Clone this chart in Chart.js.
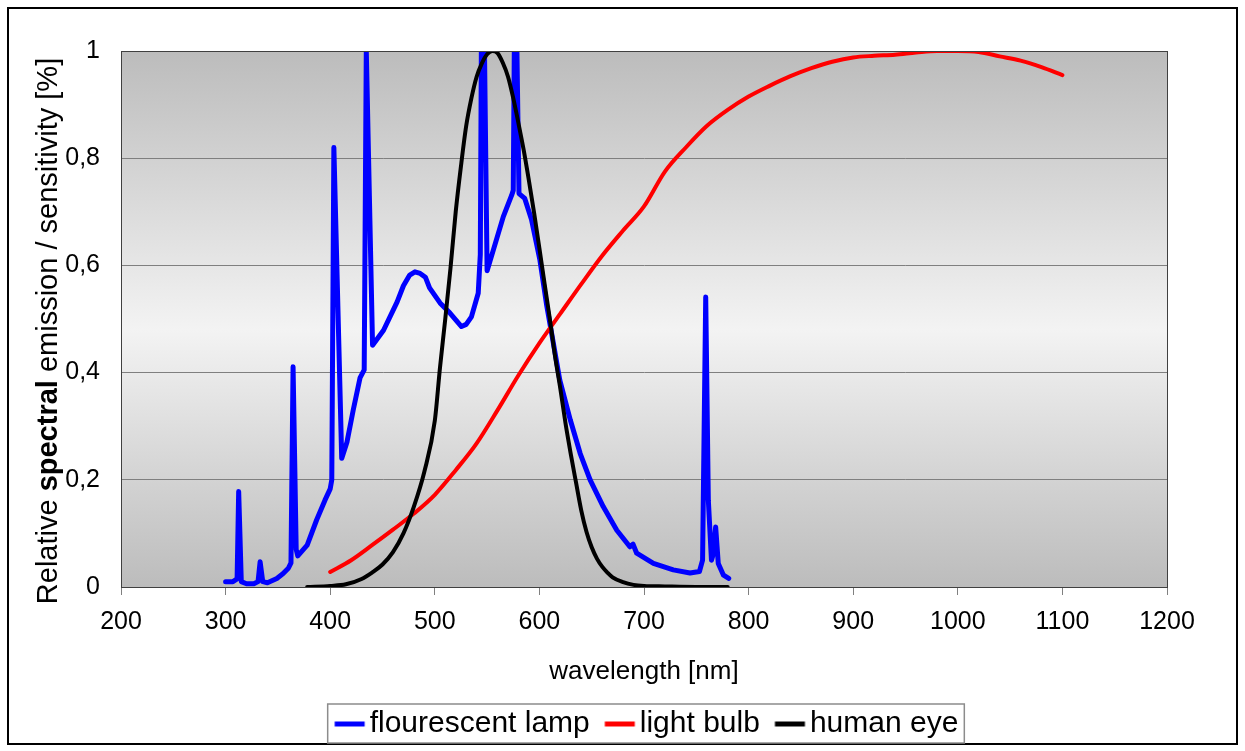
<!DOCTYPE html>
<html>
<head>
<meta charset="utf-8">
<title>Spectral emission</title>
<script src="https://cdn.jsdelivr.net/npm/chart.js@4/dist/chart.umd.min.js"></script>
<style>
    body { margin: 0; background: #fff; }
    #chart { display: block; }
</style>
</head>
<body>
<canvas id="chart" width="1245" height="751"></canvas>
<script>
// Fluorescent lamp spectrum (nm / relative value)
const lampNm = [300, 307, 311, 312.5, 315, 320, 327, 331, 333, 335.5, 340, 349, 355, 360, 362.5, 364.5, 367.5, 369,
    378, 387, 395, 400, 401.5, 403.5, 411, 416, 422, 428.5, 432.5, 434.5, 440.5, 451, 464, 470, 476, 481, 486, 491, 495,
    505, 514.5, 525.5, 530, 535, 541.5, 543.5, 544.5, 547.5, 550, 556, 565.5, 573.5, 575, 576, 578.5, 580.5,
    586, 592.5, 600.5, 607, 612, 619.5, 629.5, 639, 648.5, 661, 674, 686.5, 689.5, 693, 709, 728, 744, 753,
    756, 759, 761.5, 764.5, 766, 768.5, 771, 776, 781];
const lampVal = [0.01, 0.01, 0.015, 0.178, 0.01, 0.006, 0.006, 0.01, 0.047, 0.01, 0.008, 0.016, 0.025, 0.035, 0.045, 0.411, 0.07, 0.058,
    0.078, 0.125, 0.162, 0.183, 0.2, 0.82, 0.24, 0.27, 0.33, 0.39, 0.405, 1, 0.451, 0.479, 0.532, 0.562, 0.582, 0.588, 0.585, 0.578, 0.558,
    0.53, 0.511, 0.486, 0.49, 0.504, 0.548, 0.62, 1, 1, 0.59, 0.629, 0.691, 0.731, 0.74, 1, 1, 0.734,
    0.725, 0.685, 0.61, 0.525, 0.47, 0.386, 0.312, 0.249, 0.2, 0.15, 0.106, 0.075, 0.08, 0.063, 0.044, 0.032, 0.026, 0.029,
    0.05, 0.541, 0.162, 0.05, 0.06, 0.112, 0.044, 0.022, 0.016];

// Light bulb
const bulbNm = [400, 420, 440, 460, 480, 500, 520, 540, 560, 580, 600, 620, 640, 660, 680, 700, 720, 740,
    760, 780, 800, 820, 840, 860, 880, 900, 920, 940, 960, 980, 1000, 1020, 1040, 1060, 1080, 1100];
const bulbVal = [0.028, 0.05, 0.078, 0.107, 0.137, 0.172, 0.218, 0.268, 0.33, 0.395, 0.455, 0.51, 0.565, 0.618, 0.665, 0.71, 0.775, 0.82,
    0.86, 0.89, 0.915, 0.935, 0.953, 0.968, 0.98, 0.988, 0.991, 0.993, 0.997, 1, 1, 0.998, 0.99, 0.982, 0.97, 0.955];

// Human eye sensitivity
const eyeNm = [378, 400, 415, 430, 440, 450, 460, 470, 480, 490, 500, 505, 510, 515, 520, 525, 530, 535, 540, 545,
    550, 555, 560, 565, 570, 575, 580, 585, 590, 595, 600, 605, 610, 615, 620, 625, 630, 635, 640, 645, 650,
    655, 660, 665, 670, 680, 690, 700, 720, 750, 780];
const eyeVal = [0, 0.002, 0.005, 0.015, 0.027, 0.042, 0.065, 0.1, 0.15, 0.215, 0.31, 0.41, 0.5, 0.595, 0.7, 0.785, 0.86, 0.912, 0.952, 0.977,
    0.994, 1, 0.996, 0.978, 0.952, 0.912, 0.865, 0.815, 0.758, 0.697, 0.632, 0.565, 0.5, 0.43, 0.37, 0.305, 0.248, 0.195, 0.143, 0.103, 0.074,
    0.053, 0.038, 0.027, 0.018, 0.009, 0.004, 0.002, 0.001, 0, 0];

const seriesNames = ["flourescent lamp", "light bulb", "human eye"];
const yTickLabels = ["0", "0,2", "0,4", "0,6", "0,8", "1"];

const FONT = "'Liberation Sans', Arial, sans-serif";

function toPoints(xs, ys) {
    return xs.map((x, i) => ({ x: x, y: ys[i] }));
}

// Legend swatch: a short line sitting right next to the label text
function lineSwatch(color, width) {
    const c = document.createElement("canvas");
    c.width = 80;
    c.height = 10;
    const g = c.getContext("2d");
    g.strokeStyle = color;
    g.lineWidth = width;
    g.beginPath();
    g.moveTo(32.5, 5);
    g.lineTo(62.5, 5);
    g.stroke();
    return c;
}

// Gray gradient behind the plot, frames and the y title
const decorations = {
    id: "decorations",
    beforeDraw(chart) {
        const { ctx, chartArea: a } = chart;
        ctx.save();
        ctx.fillStyle = "#fff";
        ctx.fillRect(0, 0, chart.width, chart.height);
        const grad = ctx.createLinearGradient(0, a.top, 0, a.bottom);
        grad.addColorStop(0, "#bcbcbc");
        grad.addColorStop(0.52, "#f3f3f3");
        grad.addColorStop(1, "#bcbcbc");
        ctx.fillStyle = grad;
        ctx.fillRect(a.left, a.top, a.right - a.left, a.bottom - a.top);
        ctx.restore();
    },
    afterDraw(chart) {
        const { ctx, chartArea: a } = chart;
        ctx.save();

        // plot border
        ctx.strokeStyle = "#404040";
        ctx.lineWidth = 1;
        ctx.strokeRect(a.left + 0.5, a.top + 0.5, a.right - a.left, a.bottom - a.top);

        // outer frame
        ctx.strokeStyle = "#000";
        ctx.lineWidth = 2;
        ctx.strokeRect(8, 8, 1229, 736);

        // legend box
        const boxes = chart.legend.legendHitBoxes;
        if (boxes.length) {
            const left = boxes[0].left - 2;
            const last = boxes[boxes.length - 1];
            const right = last.left + last.width + 6;
            const top = boxes[0].top - 5;
            ctx.strokeStyle = "#8c8c8c";
            ctx.lineWidth = 1.5;
            ctx.strokeRect(left, top, right - left, 39);
        }

        // y axis title with bold "spectral"
        const parts = [
            { text: "Relative ", font: "29px " + FONT },
            { text: "spectral", font: "bold 29px " + FONT },
            { text: " emission / sensitivity [%]", font: "29px " + FONT }
        ];
        let total = 0;
        parts.forEach(p => {
            ctx.font = p.font;
            p.w = ctx.measureText(p.text).width;
            total += p.w;
        });
        ctx.translate(49, 331);
        ctx.rotate(-Math.PI / 2);
        ctx.fillStyle = "#000";
        ctx.textBaseline = "middle";
        let x = -total / 2;
        parts.forEach(p => {
            ctx.font = p.font;
            ctx.fillText(p.text, x, 0);
            x += p.w;
        });
        ctx.restore();
    }
};

const chart = new Chart(document.getElementById("chart"), {
    type: "scatter",
    data: {
        datasets: [
            {
                label: seriesNames[0],
                data: toPoints(lampNm, lampVal),
                borderColor: "#0000ff",
                backgroundColor: "#0000ff",
                borderWidth: 5,
                pointStyle: lineSwatch("#0000ff", 5),
                order: 3
            },
            {
                label: seriesNames[1],
                data: toPoints(bulbNm, bulbVal),
                borderColor: "#ff0000",
                backgroundColor: "#ff0000",
                borderWidth: 4,
                cubicInterpolationMode: "monotone",
                pointStyle: lineSwatch("#ff0000", 5),
                order: 2
            },
            {
                label: seriesNames[2],
                data: toPoints(eyeNm, eyeVal),
                borderColor: "#000000",
                backgroundColor: "#000000",
                borderWidth: 4,
                cubicInterpolationMode: "monotone",
                pointStyle: lineSwatch("#000000", 5),
                order: 1
            }
        ]
    },
    options: {
        responsive: false,
        animation: false,
        devicePixelRatio: 1,
        events: [],
        showLine: true,
        elements: {
            point: { radius: 0, hoverRadius: 0 },
            line: { tension: 0, borderJoinStyle: "round", borderCapStyle: "round" }
        },
        layout: {
            padding: { left: 20, right: 78, top: 51, bottom: 2 }
        },
        scales: {
            x: {
                type: "linear",
                min: 200,
                max: 1200,
                afterFit: (scale) => { scale.height = 112; },
                ticks: {
                    stepSize: 100,
                    padding: 12,
                    color: "#000",
                    font: { family: FONT, size: 25 },
                    callback: (v) => String(v)
                },
                grid: {
                    drawOnChartArea: false,
                    drawTicks: true,
                    tickLength: 8,
                    tickColor: "#808080"
                },
                border: { color: "#404040" },
                title: {
                    display: true,
                    text: "wavelength [nm]",
                    color: "#000",
                    font: { family: FONT, size: 26 },
                    padding: { top: 0, bottom: 12 }
                }
            },
            y: {
                min: 0,
                max: 1,
                afterFit: (scale) => { scale.width = 101; },
                ticks: {
                    stepSize: 0.2,
                    padding: 21,
                    color: "#000",
                    font: { family: FONT, size: 25 },
                    callback: (v) => yTickLabels[Math.round(v * 5)]
                },
                grid: {
                    color: "#7f7f7f",
                    drawTicks: false
                },
                border: { color: "#404040" }
            }
        },
        plugins: {
            tooltip: { enabled: false },
            legend: {
                position: "bottom",
                fullSize: false,
                labels: {
                    usePointStyle: true,
                    pointStyleWidth: 25,
                    padding: 10,
                    color: "#000",
                    font: { family: FONT, size: 30 },
                    sort: (a, b) => a.datasetIndex - b.datasetIndex
                }
            }
        }
    },
    plugins: [decorations]
});
</script>
</body>
</html>
